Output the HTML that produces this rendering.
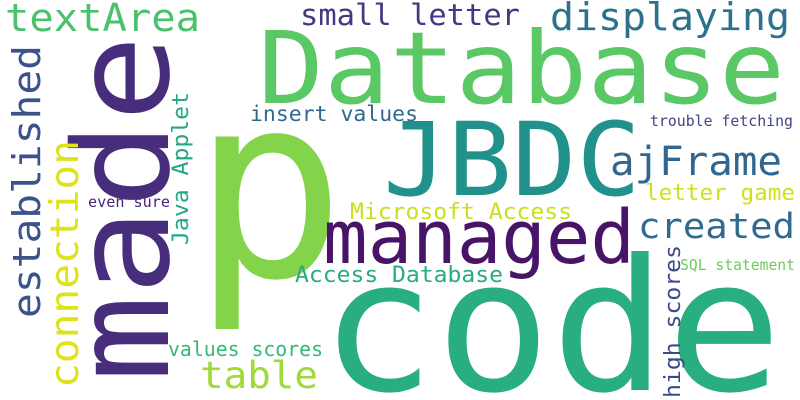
<!DOCTYPE html>
<html><head><meta charset="utf-8"><style>
html,body{margin:0;padding:0;background:#fff;overflow:hidden;width:800px;height:400px;}
svg{display:block;}
text{font-family:"DejaVu Sans Mono","Liberation Mono",monospace;}
</style></head><body>
<svg id="cloud" width="800" height="400" xmlns="http://www.w3.org/2000/svg">
<rect width="800" height="400" fill="#fff"/>
</svg>
<script>
const words = ["p","code","Database","JBDC","made","managed","textArea","small letter","displaying","established","connection","Java Applet","even sure","insert values","trouble fetching","ajFrame","letter game","Microsoft Access","created","Access Database","table","values scores","high scores","SQL statement"];
const sizes = [255,183,100,102,132,74,38,29,38,38,39,22,15,21,15,40,22,22,35,22,37,20,22,15];
const colors = ["#84d44b","#28ae80","#5ac864","#21918c","#472d7b","#481467","#4ac16d","#453781","#2c728e","#3b528b","#dde318","#22a884","#482475","#31688e","#414487","#31678e","#d0e11c","#c8e020","#306a8e","#25ac82","#a0da39","#35b779","#3e4989","#6ccd5a"];
const layoutX = [192,320,258,383,168,323,5,300,550,40,78,188,88,250,650,610,645,350,638,295,200,168,680,680];
const layoutY = [276,390,103,195,382,263,31,25,30,318,388,245,207,121,126,175,200,219,238,282,388,356,398,270];
const layoutW = [0,462,527,258,347,312,195,220,240,273,248,153,82,168,143,172,150,222,157,208,118,155,153,115];
const vertical = [0,0,0,0,1,0,0,0,0,1,1,1,0,0,0,0,0,0,0,0,0,0,1,0];
const svg = document.getElementById('cloud');
const NS = "http://www.w3.org/2000/svg";
for (let i = 0; i < words.length; i++) {
  const t = document.createElementNS(NS, 'text');
  t.textContent = words[i];
  t.setAttribute('font-size', sizes[i]);
  t.setAttribute('fill', colors[i]);
  if (layoutW[i]) { t.setAttribute('textLength', layoutW[i]); t.setAttribute('lengthAdjust', 'spacingAndGlyphs'); }
  if (vertical[i]) {
    t.setAttribute('transform', 'translate(' + layoutX[i] + ',' + layoutY[i] + ') rotate(-90)');
  } else {
    t.setAttribute('x', layoutX[i]);
    t.setAttribute('y', layoutY[i]);
  }
  
  
  svg.appendChild(t);
}
</script>
</body></html>
